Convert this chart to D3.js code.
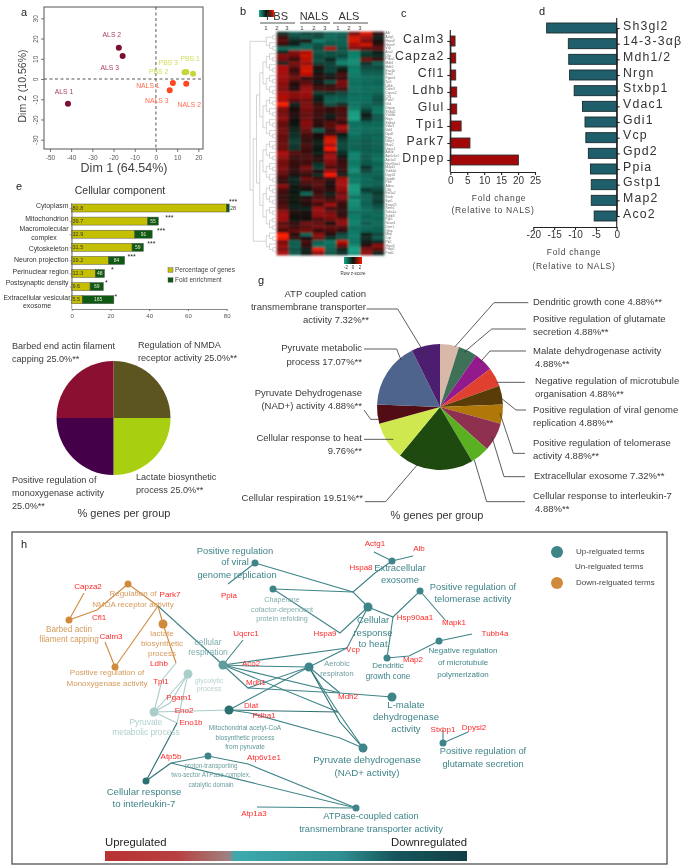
<!DOCTYPE html>
<html><head><meta charset="utf-8">
<script src="https://d3js.org/d3.v7.min.js"></script>
<style>html,body{margin:0;background:#fff}svg{display:block;filter:blur(.3px)}text{font-family:"Liberation Sans",Arial,sans-serif}</style>
</head><body><svg id="fig" width="685" height="868"></svg>
<script>
// ---------- DATA ----------
const pcaNames=["ALS 1","ALS 2","ALS 3","PBS 1","PBS 2","PBS 3","NALS 1","NALS 2","NALS 3"];
const pcaDim1=[-41.5,-17.5,-15.7,17.5,13.5,14.3,8,14.3,6.5];
const pcaDim2=[-12.2,15.5,11.4,2.6,3.4,3.5,-2,-2.3,-5.5];
const heatGroups=["PBS","NALS","ALS"];
const heatCols=["1","2","3"];
const heatRows=[
[-3,-8,-6,-6,-9,-9,8,19,3],[4,-6,-8,-6,-10,-8,18,13,-2],[6,-2,2,-13,-9,-9,18,9,1],[3,-2,-9,-7,-8,-9,14,18,3],
[-10,-11,-10,-6,13,-7,10,7,7],[-2,10,15,-8,-7,-8,-13,-5,-1],[10,8,17,-6,-7,-6,-14,-4,-3],[8,3,16,-7,-2,-10,-15,8,4],
[-2,9,12,-5,-5,-14,-15,-3,-9],[14,6,17,2,-5,-4,-12,-6,-6],[14,3,19,-1,-6,1,-14,-8,-8],[13,6,16,2,-2,5,-13,-9,-9],
[12,8,3,2,2,3,-11,-10,-10],[11,3,6,-1,-7,9,-11,-10,-9],[10,2,9,3,3,8,-11,-10,-10],[9,2,12,4,5,4,-11,-10,-10],
[13,10,12,-5,-4,-6,-10,-10,-9],[15,10,11,-2,-8,-8,-11,-11,-8],[13,6,8,-1,-9,-9,-11,-10,-7],[24,-2,9,3,-7,-3,-11,-9,-8],
[10,1,9,5,3,5,-13,-8,-11],[8,2,8,4,3,5,-17,-4,-12],[9,2,7,4,-1,4,-18,0,-8],[10,1,8,3,1,6,-18,-3,-8],
[7,0,10,3,6,3,-11,-9,-10],[7,-1,9,2,6,14,-11,-10,-10],[8,-2,7,-8,3,10,-11,-10,-10],[8,-3,5,1,4,0,-12,-9,-9],
[7,-4,4,1,17,-3,-10,-9,-10],[7,-5,3,-1,20,-5,-9,-8,-9],[8,-4,5,-1,14,-6,-9,-8,-9],[7,-4,4,0,24,-6,-9,-8,-9],
[14,6,4,-2,8,-3,-13,-9,-9],[12,4,5,2,14,0,-14,-8,-10],[9,4,5,3,10,3,-13,-8,-11],[8,3,4,-3,9,4,-12,-8,-9],
[9,3,9,-5,5,4,-14,-3,-10],[8,3,6,2,12,3,-15,-6,-9],[6,1,3,-3,24,-2,-11,-9,-9],[4,-3,8,4,4,12,-13,-10,-8],
[3,-2,5,6,2,14,-12,-9,-9],[10,0,3,6,1,13,-17,-9,-8],[5,-1,1,4,3,11,-18,-4,-6],[4,0,-10,4,-2,8,-16,-8,-4],
[3,0,2,5,3,10,-11,-9,-6],[4,0,3,8,5,6,-16,-9,-4],[5,-1,2,4,13,3,-15,-9,-6],[6,-1,-2,12,4,3,-14,-10,-8],
[11,2,1,11,8,3,-10,-10,-9],[13,1,1,10,10,3,-13,-9,-10],[12,0,1,5,8,9,-13,-10,-9],[6,3,8,7,1,11,-14,-8,-10],
[8,4,6,8,7,6,-11,-10,-9],[4,7,9,3,5,3,-12,-9,-9],[24,2,-9,10,2,-6,-13,-1,-6],[22,3,1,8,-3,-7,-12,-3,-8],
[8,-9,5,-9,-12,16,-12,-1,-2],[12,-9,3,-11,-10,8,-15,3,10],[9,-7,-2,22,-9,-2,-19,9,6],[14,-8,0,10,-7,-3,-16,10,-2]];
const heatGenes=["Alb","Actg1","Hspa8","Hspa9","Vcp","Aco2","Dlat","Pdha1","Mdh1","Mdh2","Eno1b","Eno2","Pgam1","Tpi1","Ldhb","Calm3","Capza2","Cfl1","Park7","Glul","Dnpep","Sh3gl2","Ywhab","Nrgn","Stxbp1","Vdac1","Gdi1","Gpd2","Ppia","Gstp1","Map2","Uqcrc1","Atp5b","Atp6v1e1","Atp1a3","Hsp90aa1","Mapk1","Tubb4a","Dpysl2","Gapdh","Pkm","Aldoa","Ckb","Eef1a2","Sncb","Syn1","Snap25","Stmn1","Tuba1a","Tubb3","Pgk1","Ncam1","Dnm1","Gfap","Mbp","Cnp","Plp1","Hspa5","Pebp1","Prdx1"];
const cGenes=["Calm3","Capza2","Cfl1","Ldhb","Glul","Tpi1","Park7","Dnpep"];
const cFold=[1.4,1.6,1.6,1.9,1.9,3.2,5.8,20.1];
const cTicks=[0,5,10,15,20,25];
const dGenes=["Sh3gl2","14-3-3αβ","Mdh1/2","Nrgn","Stxbp1","Vdac1","Gdi1","Vcp","Gpd2","Ppia","Gstp1","Map2","Aco2"];
const dFold=[-16.8,-11.6,-11.5,-11.3,-10.2,-8.2,-7.6,-7.4,-6.8,-6.3,-6.1,-6.1,-5.4];
const dTicks=[-20,-15,-10,-5,0];
const eCats=["Cytoplasm","Mitochondrion","Macromolecular complex","Cytoskeleton","Neuron projection","Perinuclear region","Postsynaptic density","Extracellular vesicular exosome"];
const ePct=[80.8,39.7,32.9,31.5,19.2,12.3,9.6,5.5];
const eFold=[1.4,5.5,9.1,5.9,8.4,4.8,6.9,16.5];
const eFoldLabels=["28","55","91","59","84","48","69","165"];
const eStars=["***","***","***","***","***","*","*","*"];
const eTicks=[0,20,40,60,80];
const fNames=["Regulation of NMDA receptor activity","Lactate biosynthetic process","Positive regulation of monoxygenase activity","Barbed end actin filament capping"];
const fPct=[25,25,25,25];
const gNames=["Dendritic growth cone","Positive regulation of glutamate secretion","Malate dehydrogenase activity","Negative regulation of microtubule organisation","Positive regulation of viral genome replication","Positive regulation of telomerase activity","Extracellular exosome","Cellular response to interleukin-7","Cellular respiration","Cellular response to heat","Pyruvate Dehydrogenase (NAD+) activity","Pyruvate metabolic process","ATP coupled cation transmembrane transporter activity"];
const gPct=[4.88,4.88,4.88,4.88,4.88,4.88,7.32,4.88,19.51,9.76,4.88,17.07,7.32];

// ---------- STYLE / LAYOUT ----------
const svg=d3.select("#fig");
function text(g,x,y,s,o={}){const t=g.append("text").attr("x",x).attr("y",y).attr("dominant-baseline","middle")
  .attr("text-anchor",o.anchor||"start").attr("font-size",o.size||8).attr("fill",o.fill||"#333").text(s);
  if(o.ls)t.attr("letter-spacing",o.ls); if(o.rot!=null)t.attr("transform",`rotate(${o.rot},${x},${y})`); return t;}
function axisStyle(g,col,w,size,fill){g.selectAll("path,line").attr("stroke",col).attr("stroke-width",w);
  g.selectAll("text").attr("font-size",size).attr("fill",fill).attr("font-family",'"Liberation Sans",Arial,sans-serif');}
const plain=d=>String(d);
[["a",21,13],["b",240,12],["c",401,14],["d",539,12],["e",16,187],["g",258,281],["h",21,545]].forEach(d=>text(svg,d[1],d[2],d[0],{size:11,fill:"#222"}));

// ---------- a: PCA ----------
(function(){
 const X=d3.scaleLinear().domain([-52.8,22.2]).range([44,203]),Y=d3.scaleLinear().domain([35.6,-34.6]).range([7,149]);
 const g=svg.append("g");
 g.append("rect").attr("x",44).attr("y",7).attr("width",159).attr("height",142).attr("fill","none").attr("stroke","#555").attr("stroke-width",1);
 const ax=g.append("g").attr("transform","translate(0,149)").call(d3.axisBottom(X).tickValues(d3.range(-50,21,10)).tickSize(3).tickSizeOuter(0).tickFormat(plain));
 ax.select("path").remove();axisStyle(ax,"#555",.8,6.5,"#555");
 const ay=g.append("g").attr("transform","translate(44,0)").call(d3.axisLeft(Y).tickValues(d3.range(-30,31,10)).tickSize(3).tickSizeOuter(0).tickFormat(plain));
 ay.select("path").remove();axisStyle(ay,"#555",.8,6.5,"#555");
 ay.selectAll("text").attr("transform","rotate(-90)").attr("x",0).attr("y",-8).attr("dy",0).attr("text-anchor","middle").attr("dominant-baseline","middle");
 [[X(-52.8),Y(0),X(22.2),Y(0)],[X(0),Y(35.6),X(0),Y(-34.6)]].forEach(l=>g.append("line").attr("x1",l[0]).attr("y1",l[1]).attr("x2",l[2]).attr("y2",l[3]).attr("stroke","#444").attr("stroke-width",.9).attr("stroke-dasharray","3 2.5"));
 const col=n=>n.startsWith("ALS")?"#7c0f2b":n.startsWith("PBS")?"#c6d63a":"#ff4522";
 const lab=n=>n.startsWith("ALS")?"#a5405a":n.startsWith("PBS")?"#d2dd55":"#ff6a50";
 const off={"ALS 1":[-4,-11],"ALS 2":[-7,-12],"ALS 3":[-13,12],"PBS 1":[-3,-15],"PBS 2":[-26,0],"PBS 3":[-18,-9],"NALS 1":[-25,3],"NALS 2":[3,22],"NALS 3":[-13,11]};
 pcaNames.forEach((n,i)=>{g.append("circle").attr("cx",X(pcaDim1[i])).attr("cy",Y(pcaDim2[i])).attr("r",3).attr("fill",col(n));
  text(g,X(pcaDim1[i])+off[n][0],Y(pcaDim2[i])+off[n][1],n,{anchor:"middle",size:6.8,fill:lab(n)});});
 text(g,124,169,"Dim 1 (64.54%)",{anchor:"middle",size:12.5,fill:"#444"});
 text(g,23,86,"Dim 2 (10.56%)",{anchor:"middle",size:10.5,fill:"#444",rot:-90});
})();

// ---------- b: heatmap ----------
(function(){
 const defs=svg.append("defs");
 defs.append("filter").attr("id","soft").append("feGaussianBlur").attr("stdDeviation",.9);
 const color=d3.scaleLinear().domain([-20,-10,0,10,24]).range(["#14a88a","#0f6b5a","#0a120e","#8a0a0a","#ff1a00"]).clamp(true);
 const X=d3.scaleBand().domain(d3.range(9)).range([276.7,384]),Y=d3.scaleBand().domain(d3.range(heatRows.length)).range([31.7,255]);
 const g=svg.append("g");
 g.append("g").attr("filter","url(#soft)").selectAll("g.r").data(heatRows).join("g").attr("class","r").selectAll("rect").data((r,i)=>r.map((v,j)=>({v,i,j}))).join("rect")
  .attr("x",d=>X(d.j)).attr("y",d=>Y(d.i)).attr("width",X.bandwidth()+.3).attr("height",Y.bandwidth()+.3).attr("fill",d=>color(d.v));
 g.selectAll("text.gene").data(heatGenes).join("text").attr("class","gene").attr("x",385.5).attr("y",(d,i)=>Y(i)+Y.bandwidth()/2).attr("dominant-baseline","middle").attr("font-size",3.2).attr("fill","#777").text(d=>d);
 // dendrogram
 const leaves=(a,b)=>{if(a===b)return{name:a};const m=Math.floor((a+b+1)/2);return{children:[leaves(a,m-1),leaves(m,b)]};};
 const tree={children:[leaves(0,4),{children:[leaves(5,53),leaves(54,59)]}]};
 const root=d3.hierarchy(tree);
 d3.cluster().size([Y.step()*59,26]).separation(()=>1)(root);
 const dg=g.append("g").attr("transform",`translate(250,${31.7+Y.step()/2})`);
 dg.selectAll("path").data(root.links()).join("path").attr("fill","none").attr("stroke","#aaa").attr("stroke-width",.5)
   .attr("d",d=>`M${d.source.y},${d.source.x}V${d.target.x}H${d.target.y}`);
 // legends
 const gr=defs.append("linearGradient").attr("id","hg");
 [["0","#14a88a"],[".5","#0a120e"],["1","#ff1a00"]].forEach(s=>gr.append("stop").attr("offset",s[0]).attr("stop-color",s[1]));
 g.append("rect").attr("x",259).attr("y",10).attr("width",15).attr("height",7).attr("fill","url(#hg)");
 g.append("rect").attr("x",344).attr("y",257).attr("width",18).attr("height",7).attr("fill","url(#hg)");
 [["-2",346],["0",353],["2",360]].forEach(d=>text(g,d[1],268,d[0],{anchor:"middle",size:4.5,fill:"#333"}));
 text(g,353,273.5,"Row z-score",{anchor:"middle",size:4.5,fill:"#333"});
 // header
 const hx=[[260,295,277],[300,330,314],[333,368,349]];
 hx.forEach((h,i)=>{text(g,h[2],17,heatGroups[i],{anchor:"middle",size:11,fill:"#333"});
  g.append("line").attr("x1",h[0]).attr("x2",h[1]).attr("y1",23).attr("y2",23).attr("stroke","#555").attr("stroke-width",1);});
 [266,277,287,302,314,325,338,349,360].forEach((x,i)=>text(g,x,28,heatCols[i%3],{anchor:"middle",size:6,fill:"#444"}));
})();

// ---------- c ----------
(function(){
 const X=d3.scaleLinear().domain([0,25]).range([450.3,535]),Y=d3.scalePoint().domain(cGenes).range([41,160]);
 const g=svg.append("g");
 g.selectAll("rect").data(cGenes).join("rect").attr("x",X(0)).attr("y",d=>Y(d)-5).attr("height",10).attr("width",(d,i)=>X(cFold[i])-X(0)).attr("fill","#a30808").attr("stroke","#333").attr("stroke-width",.9);
 const ay=g.append("g").attr("transform","translate(450.3,0)").call(d3.axisLeft(Y).tickSize(3).tickSizeOuter(0).tickFormat(""));
 axisStyle(ay,"#222",1.1,1,"#222");
 g.append("line").attr("x1",450.3).attr("x2",450.3).attr("y1",30).attr("y2",172).attr("stroke","#222").attr("stroke-width",1.1);
 cGenes.forEach(n=>text(g,444.5,Y(n)-1.5,n,{anchor:"end",size:12.3,fill:"#333",ls:"1.2"}));
 const ax=g.append("g").attr("transform","translate(0,172)").call(d3.axisBottom(X).tickValues(cTicks).tickSize(3).tickSizeOuter(0).tickFormat(plain));
 axisStyle(ax,"#222",1.1,10,"#333");ax.selectAll("text").attr("dy",".6em");
 text(g,499,199,"Fold change",{anchor:"middle",size:8.5,fill:"#444",ls:".7"});
 text(g,493,211,"(Relative to NALS)",{anchor:"middle",size:8.5,fill:"#444",ls:".7"});
})();

// ---------- d ----------
(function(){
 const X=d3.scaleLinear().domain([-20,0]).range([533.3,616.7]),Y=d3.scalePoint().domain(dGenes).range([28,216]);
 const g=svg.append("g");
 g.selectAll("rect").data(dGenes).join("rect").attr("x",(d,i)=>X(dFold[i])).attr("y",d=>Y(d)-5).attr("height",10).attr("width",(d,i)=>X(0)-X(dFold[i])).attr("fill","#1f5f6b").attr("stroke","#1a2a2e").attr("stroke-width",.9);
 const ay=g.append("g").attr("transform","translate(616.7,0)").call(d3.axisRight(Y).tickSize(3).tickSizeOuter(0).tickFormat(""));
 axisStyle(ay,"#222",1.1,1,"#222");
 g.append("line").attr("x1",616.7).attr("x2",616.7).attr("y1",18).attr("y2",227).attr("stroke","#222").attr("stroke-width",1.1);
 dGenes.forEach(n=>text(g,623,Y(n)-1.5,n,{size:12.3,fill:"#333",ls:"1.2"}));
 const ax=g.append("g").attr("transform","translate(0,227)").call(d3.axisBottom(X).tickValues(dTicks).tickSize(3).tickSizeOuter(0).tickFormat(plain));
 axisStyle(ax,"#222",1.1,10,"#333");ax.selectAll("text").attr("dy",".5em");
 text(g,574,253,"Fold change",{anchor:"middle",size:8.5,fill:"#444",ls:".7"});
 text(g,574,267,"(Relative to NALS)",{anchor:"middle",size:8.5,fill:"#444",ls:".7"});
})();

// ---------- e ----------
(function(){
 const X=d3.scaleLinear().domain([0,80]).range([71.7,225]),Y=d3.scalePoint().domain(eCats).range([208,299.7]);
 const g=svg.append("g");
 text(g,120,191,"Cellular component",{anchor:"middle",size:10.5,fill:"#333"});
 const row=g.selectAll("g.b").data(eCats).join("g").attr("class","b");
 row.append("rect").attr("x",X(0)).attr("y",d=>Y(d)-4).attr("height",8).attr("width",(d,i)=>X(ePct[i])-X(0)).attr("fill","#c4bf00").attr("stroke","#555").attr("stroke-width",.5);
 row.append("rect").attr("x",(d,i)=>X(ePct[i])).attr("y",d=>Y(d)-4).attr("height",8).attr("width",(d,i)=>X(eFold[i])-X(0)).attr("fill","#0e5a14").attr("stroke","#555").attr("stroke-width",.5);
 const starOff=[4,11,9,8,7,8,3,2];
 eCats.forEach((c,i)=>{const y=Y(c);
  text(g,72.5,y+.3,ePct[i].toFixed(1),{size:5.5,fill:"#333"});
  if(i>0)text(g,X(ePct[i]+eFold[i]/2),y+.3,eFoldLabels[i],{anchor:"middle",size:5,fill:"#e8e8d0"});
  else text(g,233,y+.3,eFoldLabels[i],{anchor:"middle",size:5.5,fill:"#444"});
  text(g,X(ePct[i]+eFold[i])+starOff[i],i?y-3:202,eStars[i],{anchor:"middle",size:7,fill:"#222"});
 });
 const lines=[["Cytoplasm"],["Mitochondrion"],["Macromolecular","complex"],["Cytoskeleton"],["Neuron projection"],["Perinuclear region"],["Postsynaptic density"],["Extracellular vesicular","exosome"]];
 const labelDy=[[-2.3],[-1.7],[-4.7,4.3],[1.7],[0],[-1.7],[-3],[-2,6.3]];
 lines.forEach((l,i)=>{const y=Y(eCats[i]);
  if(l.length===1)text(g,68.5,y+labelDy[i][0],l[0],{anchor:"end",size:6.9,fill:"#333"});
  else l.forEach((s,k)=>text(g,i===2?44:37,y+labelDy[i][k],s,{anchor:"middle",size:6.9,fill:"#333"}));
 });
 const ay=g.append("g").attr("transform","translate(71.7,0)").call(d3.axisLeft(Y).tickSize(2).tickSizeOuter(0).tickFormat(""));
 axisStyle(ay,"#666",.6,1,"#666");
 g.append("line").attr("x1",71.7).attr("x2",71.7).attr("y1",203).attr("y2",309).attr("stroke","#666").attr("stroke-width",.6);
 const Xa=d3.scaleLinear().domain([0,80]).range([71.7,226.7]);
 const ax=g.append("g").attr("transform","translate(0,309)").call(d3.axisBottom(Xa).tickValues(eTicks).tickSize(2).tickSizeOuter(0));
 axisStyle(ax,"#555",.7,6,"#555");
 [["Percentage of genes","#c4bf00",270],["Fold enrichment","#0e5a14",280]].forEach(l=>{
  g.append("rect").attr("x",168).attr("y",l[2]-2.2).attr("width",5).attr("height",4.4).attr("fill",l[1]).attr("stroke","#444").attr("stroke-width",.4);
  text(g,175,l[2],l[0],{size:6.5,fill:"#444"});});
})();

// ---------- pies ----------
function pie(cx,cy,r,vals,cols){const g=svg.append("g").attr("transform",`translate(${cx},${cy})`);
 const arcs=d3.pie().sort(null)(vals),a=d3.arc().innerRadius(0).outerRadius(r);
 g.selectAll("path").data(arcs).join("path").attr("d",a).attr("fill",(d,i)=>cols[i]);}
pie(113.5,418,57,fPct,["#5c5520","#a8d010","#45004a","#8a0f30"]);
(function(){const g=svg.append("g"),o={size:9.1,fill:"#3a3a3a"};
 [["Barbed end actin filament",12,347],["capping 25.0%**",12,360],["Regulation of NMDA",138,346],["receptor activity 25.0%**",138,359],
  ["Positive regulation of",12,481],["monoxygenase activity",12,494],["25.0%**",12,507],["Lactate biosynthetic",136,478],["process 25.0%**",136,491]].forEach(d=>text(g,d[1],d[2],d[0],o));
 text(g,124,514,"% genes per group",{anchor:"middle",size:11,fill:"#333"});
})();
pie(440,407,63,gPct,["#d8b8a8","#3f7058","#921a8c","#e04030","#5a3c08","#b07808","#903050","#5ab020","#1e4a10","#d0e850","#520c14","#4f648c","#4d1e70"]);
(function(){const g=svg.append("g"),o={size:9.5,fill:"#3a3a3a"},R={...o,anchor:"end"};
 const zx=v=>240+v/3,zy=v=>275+v/3;
 const leaders=[[[380,102],[473,102],[560,245]],[[372,222],[470,222],[483,255]],[[372,405],[392,433],[418,433]],[[372,493],[460,493]],[[375,680],[437,680],[540,560]],
 [[865,83],[762,83],[645,215]],[[858,162],[755,162],[672,232]],[[858,228],[750,228],[720,262]],[[855,322],[770,322]],[[858,405],[828,405],[778,365]],[[855,535],[820,535],[780,415]],[[855,605],[792,605],[755,483]],[[855,680],[740,680],[703,555]]];
 const line=d3.line().x(d=>zx(d[0])).y(d=>zy(d[1]));
 g.selectAll("path").data(leaders).join("path").attr("d",line).attr("fill","none").attr("stroke","#333").attr("stroke-width",.8);
 [["ATP coupled cation",366,294],["transmembrane transporter",366,307],["activity 7.32%**",369,320],["Pyruvate metabolic",362,348],["process 17.07%**",362,362],["Pyruvate Dehydrogenase",362,393],["(NAD+) activity 4.88%**",362,406],["Cellular response to heat",362,438],["9.76%**",362,451],["Cellular respiration 19.51%**",363,498]].forEach(d=>text(g,d[1],d[2],d[0],R));
 [["Dendritic growth cone 4.88%**",533,302],["Positive regulation of glutamate",533,319],["secretion 4.88%**",533,332],["Malate dehydrogenase activity",533,351],["4.88%**",535,364],["Negative regulation of microtubule",535,381],["organisation 4.88%**",535,394],["Positive regulation of viral genome",533,410],["replication 4.88%**",533,423],["Positive regulation of telomerase",533,443],["activity 4.88%**",533,456],["Extracellular exosome 7.32%**",534,476],["Cellular response to interleukin-7",533,496],["4.88%**",535,509]].forEach(d=>text(g,d[1],d[2],d[0],o));
 text(g,437,516,"% genes per group",{anchor:"middle",size:11,fill:"#333"});
})();

// ---------- h: network ----------
(function(){
 const g=svg.append("g");
 g.append("rect").attr("x",12).attr("y",532).attr("width",655).attr("height",332).attr("fill","none").attr("stroke","#444").attr("stroke-width",1.2);
 const T="#3f8488",TD="#2c7072",P="#a9cdca",O="#d08a3c",M="#5f9c9c";
 const S=d3.scaleIdentity();
 const nodes={nmda:[128,584,3.5,O],barbed:[69,620,3.5,O],lact:[163,624,4.5,O],mono:[115,667,3.5,O],
  glyc:[188,674,4.5,P],pyr:[154,712,4.5,P],resp:[223,665,4.5,M],aer:[309,667,4.5,T],acet:[229,710,4.5,TD],viral:[255,563,3.5,T],chap:[273,589,3.5,T],prot:[208,756,3.5,T],il7:[146,781,3.5,TD],
  exo:[392,561,3.5,T],telo:[420,591,3.5,T],heat:[368,607,4.5,T],dend:[387,658,3.5,T],micro:[439,641,3.5,T],mal:[392,697,4.5,T],nad:[363,748,4.5,T],glut:[443,743,3.5,T],atp:[356,808,3.5,T]};
 const edges=[
  [O,[84,593],"barbed"],[O,"barbed",[97,610],"nmda"],[O,"nmda",[158,606]],[O,[158,606],"mono"],[O,[105,642],"mono"],[O,[158,606],"lact",[176,663]],
  [T,[158,606],"resp"],[T,[228,584],"viral"],
  [T,"viral",[353,592],"heat"],[T,"chap",[353,592]],[T,"chap",[340,633],"heat"],[T,[353,592],[375,573],"exo"],[T,[374,552],"exo",[413,556]],
  [T,"resp",[347,648],"heat"],[T,"aer",[347,648]],[T,"resp",[243,640]],[T,"resp",[250,666],"aer"],[T,"resp",[248,688],"aer"],[T,"resp",[340,693],"mal"],[T,[248,688],[340,693]],
  [T,"resp",[338,712],"nad"],[TD,"acet",[338,712]],[T,"acet",[250,713],[340,738],"nad"],[T,"aer","acet"],[T,"aer",[338,712]],[T,"aer",[340,693]],[TD,"aer",[340,722],"nad"],
  [P,"pyr",[162,680],[176,663]],[P,"pyr","glyc"],[P,"pyr",[170,703],"glyc"],[P,"pyr",[177,723],"glyc"],[P,"pyr","acet"],
  [TD,[177,723],"il7"],[TD,[171,763],"il7"],[T,[171,763],"prot",[248,764],"atp"],[T,[171,763],"atp"],[T,[257,807],"atp"],
  [T,"heat",[393,617],"telo",[446,621]],[T,[393,617],"dend",[409,656],"micro",[472,634]],[T,[443,730],"glut",[468,732]]];
 const pt=p=>typeof p==="string"?nodes[p]:p;
 const path=d3.line().x(d=>S(pt(d)[0])).y(d=>S(pt(d)[1]));
 g.selectAll("path.e").data(edges).join("path").attr("class","e").attr("d",d=>path(d.slice(1))).attr("fill","none").attr("stroke",d=>d[0]).attr("stroke-width",1.1);
 g.selectAll("circle.n").data(Object.values(nodes)).join("circle").attr("class","n").attr("cx",d=>S(d[0])).attr("cy",d=>S(d[1])).attr("r",d=>d[2]).attr("fill",d=>d[3]);
 const OL="#d59a5a";
 const terms=[
  [235,552,"Positive regulation",9.4,T],[235,563,"of viral",9.4,T],[237,575.5,"genome replication",9.4,T],
  [282,600,"Chaperone",7.2,"#84acac"],[282,610,"cofactor-dependent",7.2,"#84acac"],[282,619,"protein refolding",7.2,"#84acac"],
  [69,630,"Barbed actin",8.2,OL],[69,640,"filament capping",8.2,OL],
  [133,594,"Regulation of",8,OL],[133,605,"NMDA receptor activity",8,OL],
  [162,634,"lactate",8,OL],[162,644,"biosynthetic",8,OL],[162,654,"process",8,OL],
  [107,673,"Positive regulation of",8,OL],[107,684,"Monoxygenase activity",8,OL],
  [208,643,"cellular",8.5,"#7dacac"],[208,653,"respiration",8.5,"#7dacac"],
  [209,681,"glycolytic",7,"#b5d3d1"],[209,689.5,"process",7,"#b5d3d1"],
  [146,723,"Pyruvate",8.4,"#b0cfcd"],[146,733,"metabolic process",8.4,"#b0cfcd"],
  [245,728,"Mitochondrial acetyl-CoA",6.5,"#5f9797"],[245,738,"biosynthetic process",6.5,"#5f9797"],[245,747,"from pyruvate",6.5,"#5f9797"],
  [211,766,"proton-transporting",6.3,"#6fa0a0"],[211,775,"two-sector ATPase complex,",6.3,"#6fa0a0"],[211,785,"catalytic domain",6.3,"#6fa0a0"],
  [144,792,"Cellular response",9.6,T],[144,804,"to interleukin-7",9.6,T],
  [337,664,"Aerobic",7.5,"#6f9e9e"],[337,674,"respiraton",7.5,"#6f9e9e"],
  [373,620,"Cellular",9.5,T],[373,633,"response",9.5,T],[373,644,"to heat",9.5,T],
  [400,569,"Extracellular",9.4,T],[400,581,"exosome",9.4,T],
  [473,588,"Positive regulation of",9.3,T],[473,600,"telomerase activity",9.3,T],
  [388,666,"Dendritic",8,T],[388,677,"growth cone",8.2,T],
  [463,651,"Negative regulation",8,T],[463,663,"of microtubule",8,T],[463,675,"polymerization",8,T],
  [406,705,"L-malate",9.6,T],[406,717,"dehydrogenase",9.6,T],[406,729,"activity",9.6,T],
  [367,760,"Pyruvate dehydrogenase",9.7,T],[367,773,"(NAD+ activity)",9.7,T],
  [483,752,"Positive regulation of",9.3,T],[483,765,"glutamate secretion",9.3,T],
  [371,817,"ATPase-coupled cation",9.3,T],[371,830,"transmembrane transporter activity",9.3,T]];
 terms.forEach(t=>text(g,t[0],t[1],t[2],{anchor:"middle",size:t[3],fill:t[4]}));
 const genes=[["Capza2",88,587],["Cfl1",99,618],["Park7",170,595],["Ppia",229,596],["Calm3",111,637],["Ldhb",159,664],["Tpi1",161,682],["Pgam1",179,698],["Eno2",184,711],["Eno1b",191,723],["Uqcrc1",246,634],["Aco2",251,664],["Mdh1",256,683],["Dlat",251,706],["Pdha1",264,716],["Atp5b",171,757],["Atp6v1e1",264,758],["Atp1a3",254,814],["Hspa9",325,634],["Hspa8",361,568],["Actg1",375,544],["Alb",419,549],["Hsp90aa1",415,618],["Mapk1",454,623],["Tubb4a",495,634],["Map2",413,660],["Vcp",353,650],["Mdh2",348,697],["Stxbp1",443,730],["Dpysl2",474,728]];
 genes.forEach(d=>text(g,d[1],d[2],d[0],{anchor:"middle",size:8,fill:"#ff2a2a"}));
 g.append("circle").attr("cx",557).attr("cy",552).attr("r",6).attr("fill",T);
 g.append("circle").attr("cx",557).attr("cy",583).attr("r",6).attr("fill",O);
 [["Up-relguated terms",576,552],["Un-relguated terms",575,567],["Down-relguated terms",576,583]].forEach(d=>text(g,d[1],d[2],d[0],{size:8,fill:"#444"}));
 const gr=svg.select("defs").append("linearGradient").attr("id","reg");
 [[0,"#b83232"],[.2,"#b84040"],[.34,"#a08080"],[.36,"#3ea9ad"],[.65,"#2f8f92"],[.8,"#17565c"],[1,"#123f47"]].forEach(s=>gr.append("stop").attr("offset",s[0]).attr("stop-color",s[1]));
 g.append("rect").attr("x",105).attr("y",851).attr("width",362).attr("height",10).attr("fill","url(#reg)");
 text(g,105,843,"Upregulated",{size:11.3,fill:"#222"});
 text(g,467,843,"Downregulated",{anchor:"end",size:11.3,fill:"#222"});
})();
</script></body></html>
